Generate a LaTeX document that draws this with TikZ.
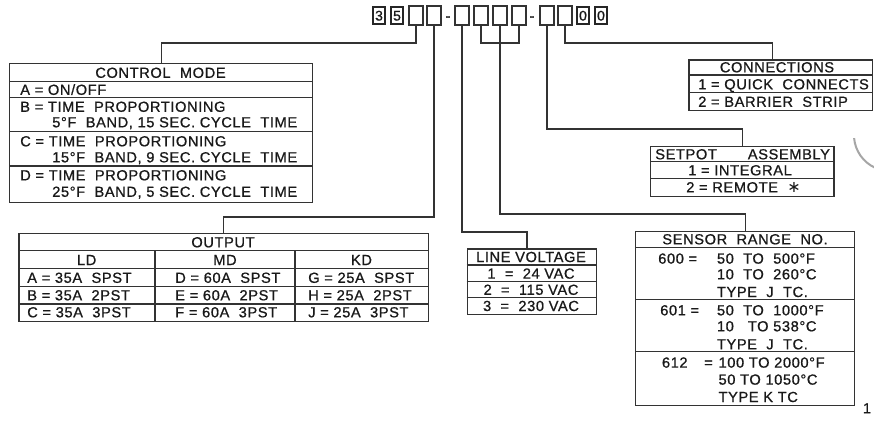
\documentclass[tikz,border=0pt]{standalone}
\usepackage{fontspec}
\setmainfont{Liberation Sans}[LetterSpace=4, FakeBold=0.8]
\newfontfamily\symfont{DejaVu Sans}
\usepackage{tikz}

\begin{document}
\begin{tikzpicture}[x=0.75pt, y=-0.75pt,
        every node/.style = {font=\fontsize{11}{13}\selectfont, inner sep=0pt, text height=8pt, text depth=0pt, text=black!90},
        ln/.style = {draw=black!80, line width=0.8pt},
        tbl/.style = {draw=black!80, line width=0.9pt, anchor=north west, text height=, text depth=},
        code/.style = {draw=black!80, line width=0.9pt, minimum width=10.5pt, minimum height=14.25pt, text height=, text depth=},
        digit/.style = {draw=black!85, line width=1.4pt, minimum width=9.5pt, minimum height=13pt, font=\fontsize{10.5}{11}\selectfont, text height=7.6pt},
        lbl/.style = {anchor=west},
        head/.style = {anchor=center}]
            \useasboundingbox (0,0) rectangle (874,446);
            % part number
            \node[digit] (c1) at (379,15.5) {3};
            \node[digit] (c2) at (397,15.5) {5};
            \node[code] (c3) at (416,15.5) {};
            \node[code] (c4) at (434,15.5) {};
            \node (d1) at (448,15.5) {-};
            \node[code] (c5) at (462,15.5) {};
            \node[code] (c6) at (481,15.5) {};
            \node[code] (c7) at (500,15.5) {};
            \node[code] (c8) at (519,15.5) {};
            \node (d2) at (532,15.5) {-};
            \node[code] (c9) at (547,15.5) {};
            \node[code] (c10) at (565,15.5) {};
            \node[digit] (c11) at (583,15.5) {0};
            \node[digit] (c12) at (601,15.5) {0};

            % tables
            \node[tbl, minimum width=227.25pt, minimum height=104pt] (mode) at (9,63) {};
            \node[tbl, minimum width=307.3pt, minimum height=65.8pt] (output) at (18.3,233) {};
            \node[tbl, minimum width=97pt, minimum height=49.3pt] (volt) at (466.7,248.3) {};
            \node[tbl, minimum width=164.25pt, minimum height=130.7pt] (sensor) at (635,230.7) {};
            \node[tbl, minimum width=137.5pt, minimum height=37.5pt] (setpot) at (650,146) {};
            \node[tbl, minimum width=137.5pt, minimum height=38pt] (conn) at (688.3,59.3) {};

            \foreach \y in {81.7,97.7,131.7,166}
                \draw[ln] (9,\y) -- (312,\y);
            \foreach \y in {250.7,268.7,286.3,304}
                \draw[ln] (18.3,\y) -- (428,\y);
            \draw[ln] (155,250.7) -- (155,320.7);
            \draw[ln] (295,250.7) -- (295,320.7);
            \foreach \y in {265,281.7,297.3}
                \draw[ln] (466.7,\y) -- (596,\y);
            \foreach \y in {247.3,299.3,351.7}
                \draw[ln] (635,\y) -- (854,\y);
            \foreach \y in {161.7,178.3}
                \draw[ln] (650,\y) -- (833.3,\y);
            \foreach \y in {75,92.7}
                \draw[ln] (688.3,\y) -- (871.7,\y);

            % connectors
            \coordinate (k1) at (416,43);
            \coordinate (k2) at (434,217);
            \coordinate (k3) at (462,232);
            \coordinate (k4) at (500,214);
            \coordinate (k5) at (500,43);
            \coordinate (k6) at (547,129);
            \coordinate (k7) at (565,43);
            \draw[ln] (c3.south) -- (k1) -| (mode.north);
            \draw[ln] (c4.south) -- (k2) -| (output.north);
            \draw[ln] (c5.south) -- (k3) -| ([xshift=-3.75pt]volt.north);
            \draw[ln] (c7.south) -- (k4) -| (sensor.north);
            \draw[ln] (c6.south) |- (k5) -| (c8.south);
            \draw[ln] (c9.south) -- (k6) -| (setpot.north);
            \draw[ln] (c10.south) -- (k7) -| ([xshift=-6pt]conn.north);

            % control mode
            \node[head] (m0) at (160.5,72.5) {CONTROL\ \ MODE};
            \node[lbl] (m1) at (20,89.5) {A = ON/OFF};
            \node[lbl] (m2) at (20,106.5) {B = TIME\ \ PROPORTIONING};
            \node[lbl] (m3) at (52,122) {5°F\ \ BAND, 15 SEC. CYCLE\ \ TIME};
            \node[lbl] (m4) at (20,141) {C = TIME\ \ PROPORTIONING};
            \node[lbl] (m5) at (52,157) {15°F\ \ BAND, 9 SEC. CYCLE\ \ TIME};
            \node[lbl] (m6) at (20,175) {D = TIME\ \ PROPORTIONING};
            \node[lbl] (m7) at (52,191.5) {25°F\ \ BAND, 5 SEC. CYCLE\ \ TIME};

            % output
            \node[head] (o0) at (223,242) {OUTPUT};
            \node[head] (ld) at (86.7,259.7) {LD};
            \node[head] (md) at (225,259.7) {MD};
            \node[head] (kd) at (361.5,259.7) {KD};
            \node[lbl] (oa) at (27,277.5) {A\ = 35A\ \ SPST};
            \node[lbl] (ob) at (27,295) {B\ = 35A\ \ 2PST};
            \node[lbl] (oc) at (27,312) {C\ = 35A\ \ 3PST};
            \node[lbl] (od) at (175,277.5) {D = 60A\ \ SPST};
            \node[lbl] (oe) at (175,295) {E = 60A\ \ 2PST};
            \node[lbl] (of) at (175,312) {F = 60A\ \ 3PST};
            \node[lbl] (og) at (308,277.5) {G = 25A\ \ SPST};
            \node[lbl] (oh) at (308,295) {H = 25A\ \ 2PST};
            \node[lbl] (oj) at (308,312) {J = 25A\ \ 3PST};

            % line voltage
            \node[head] (v0) at (531,256.7) {LINE VOLTAGE};
            \node[head] (v1) at (531,273.3) {1 \ = \ 24 VAC};
            \node[head] (v2) at (531,289.5) {2 \ = \ 115 VAC};
            \node[head] (v3) at (531,305.7) {3 \ = \ 230 VAC};

            % sensor range
            \node[head] (s0) at (745,239) {SENSOR\ \ RANGE\ \ NO.};
            \node[lbl] (s1) at (658,258.3) {600 =};
            \node[lbl] (s1a) at (716.7,258.3) {50\ \ TO\ \ 500°F};
            \node[lbl] (s1b) at (716.7,274) {10\ \ TO\ \ 260°C};
            \node[lbl] (s1c) at (716.7,291.7) {TYPE\ \ J\ \ TC.};
            \node[lbl] (s2) at (660,310) {601 =};
            \node[lbl] (s2a) at (716.7,310) {50\ \ TO\ \ 1000°F};
            \node[lbl] (s2b) at (716.7,326) {10\ \ \ TO\ 538°C};
            \node[lbl] (s2c) at (716.7,344) {TYPE\ \ J\ \ TC.};
            \node[lbl] (s3) at (661.7,362.3) {612};
            \node[lbl] (s3e) at (704,362.3) {=};
            \node[lbl] (s3a) at (718.3,362.3) {100 TO 2000°F};
            \node[lbl] (s3b) at (718.3,379.3) {50 TO 1050°C};
            \node[lbl] (s3c) at (718.3,396.7) {TYPE K TC};
            \node (pg) at (867,408) {1};

            % setpot assembly
            \node[lbl, text width=131pt] (p0) at (655,154) {SETPOT\hfill ASSEMBLY};
            \node[lbl] (p1) at (688,170) {1 = INTEGRAL};
            \node[lbl] (p2) at (686,187) {2 = REMOTE\ \ {\symfont\fontsize{12}{12}\selectfont ∗}};

            % connections
            \node[head] (n0) at (777,67) {CONNECTIONS};
            \node[lbl] (n1) at (698,84) {1 = QUICK\ \ CONNECTS};
            \node[lbl] (n2) at (698,101.5) {2 = BARRIER\ \ STRIP};

            \draw[black!35, line width=1.5pt] (854.1,138.1) arc[start angle=175, end angle=115, radius=36];
        \end{tikzpicture}
\end{document}
